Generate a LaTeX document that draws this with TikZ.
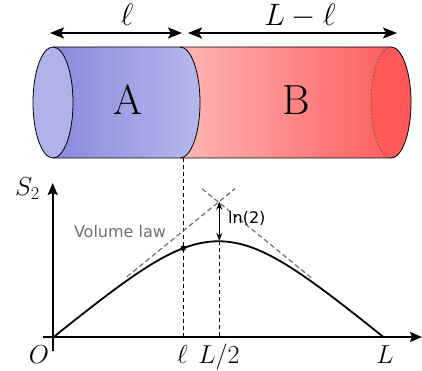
\documentclass[tikz,border=0pt]{standalone}
\usepackage{fix-cm}
\usepackage{fontspec}
\newfontfamily\dejavu{DejaVu Sans}
\usetikzlibrary{arrows.meta}
\definecolor{aleft}{RGB}{136,138,220}
\definecolor{aright}{RGB}{182,184,236}
\definecolor{aface}{RGB}{176,178,234}
\definecolor{bleft}{RGB}{255,182,182}
\definecolor{bright}{RGB}{255,86,86}
\definecolor{bface}{RGB}{255,88,88}
\definecolor{lawgray}{RGB}{110,110,110}
\tikzset{
  dimarrow/.style={line width=2pt,{Stealth[length=14pt,width=11pt,inset=3pt]}-{Stealth[length=14pt,width=11pt,inset=3pt]}},
  axisline/.style={line width=2pt,-{Stealth[length=12pt,width=10pt,inset=2pt]}},
  outline/.style={line width=0.8pt,black},
  guide/.style={line width=1pt,dash pattern=on 4pt off 3pt},
  lawline/.style={line width=1.2pt,lawgray,dash pattern=on 5pt off 3pt},
  toplabel/.style={font=\fontsize{31}{35}\selectfont,anchor=base,inner sep=0pt},
  partlabel/.style={font=\fontsize{42}{46}\selectfont,anchor=base,inner sep=0pt},
  axlabel/.style={font=\fontsize{26}{30}\selectfont,anchor=base,inner sep=0pt},
  sanslabel/.style={font=\dejavu\fontsize{16}{18}\selectfont,inner sep=0pt}
}
\begin{document}
\begin{tikzpicture}[x=1pt,y=-1pt]
\useasboundingbox (0,0) rectangle (422,371);
% --- cylinder ---
% region B
\shade[left color=bleft,right color=bright]
  (180,47) -- (391,47) arc[start angle=-90,end angle=90,x radius=20,y radius=55.5]
  -- (180,158) arc[start angle=90,end angle=-90,x radius=20,y radius=55.5] -- cycle;
\fill[bface] (391,102.5) ellipse[x radius=20,y radius=55.5];
\draw[line width=0.5pt,black!70,dash pattern=on 2pt off 1.5pt]
  (391,47) arc[start angle=-90,end angle=-270,x radius=20,y radius=55.5];
% region A
\shade[left color=aleft,right color=aright]
  (53,47) -- (180,47) arc[start angle=-90,end angle=90,x radius=20,y radius=55.5]
  -- (53,158) -- cycle;
% outlines
\draw[outline] (53,47) -- (391,47) arc[start angle=-90,end angle=90,x radius=20,y radius=55.5] -- (53,158);
\draw[outline] (180,47) arc[start angle=-90,end angle=90,x radius=20,y radius=55.5];
\draw[outline,fill=aface] (53,102.5) ellipse[x radius=20,y radius=55.5];
\node[partlabel] (A) at (128.5,114.5) {A};
\node[partlabel] (B) at (296,114.5) {B};
% dimension arrows
\coordinate (dl) at (50,33);
\coordinate (dm1) at (182,33);
\coordinate (dm2) at (188,33);
\coordinate (dr) at (397,33);
\draw[dimarrow] (dl) -- (dm1);
\draw[dimarrow] (dm2) -- (dr);
\node[toplabel] (ell) at (127,26) {$\ell$};
\node[toplabel] (Lmell) at (300,26) {$L-\ell$};
% --- plot ---
\coordinate (O) at (52.7,337);
\coordinate (yend) at (52.7,183);
\coordinate (ybot) at (52.7,351);
\coordinate (xbeg) at (43,337);
\coordinate (xend) at (422,337);
\draw[guide] (183.3,158) -- (183.3,337);
\draw[guide] (219.3,241) -- (219.3,337);
\draw[lawline] (127,276.7) -- (235,188.7);
\draw[lawline] (202,188.7) -- (311,277.5);
\draw[axisline] (ybot) -- (yend);
\draw[axisline] (xbeg) -- (xend);
\draw[line width=1.8pt,line join=round]
  plot[domain=0:331,samples=120,smooth]
  ({53+\x},{337+56.3*ln(exp(-0.815*\x/56.3)+exp(-0.815*(331-\x)/56.3))});
\fill (183.3,248.2) circle (2.8pt);
\coordinate (cross) at (219.3,201.7);
\coordinate (peak) at (219.3,241);
\draw[line width=1.3pt,{Stealth[length=8pt,width=6pt]}-{Stealth[length=8pt,width=6pt]}] (cross) -- (peak);
\node[sanslabel,anchor=west] (ln2) at (228,218) {ln(2)};
\node[sanslabel,lawgray] (vol) at (120,232) {Volume law};
\node[axlabel,anchor=base west] (S2) at (15,196) {$S_2$};
\node[axlabel] (Olab) at (39,363) {$O$};
\node[axlabel] (ellx) at (182.5,363) {$\ell$};
\node[axlabel] (Lhalf) at (219,363) {$L/2$};
\node[axlabel] (Lx) at (385,363) {$L$};
\end{tikzpicture}
\end{document}
